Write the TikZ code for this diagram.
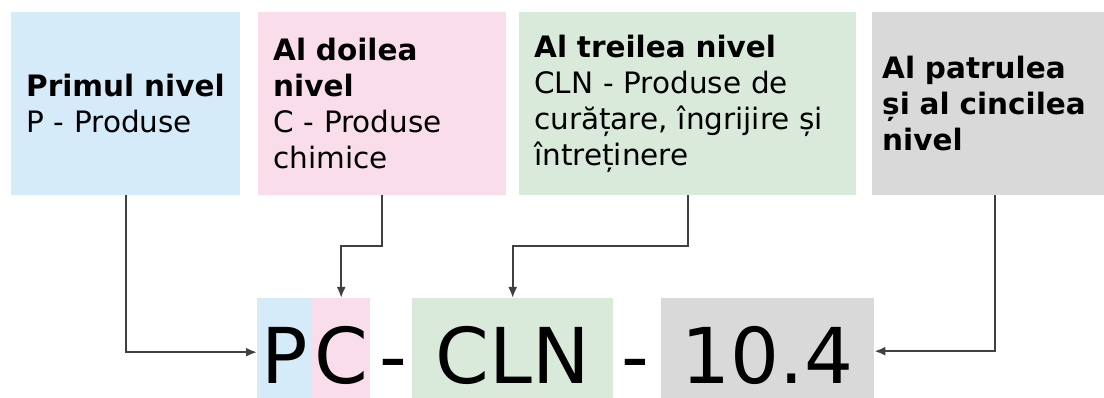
\documentclass[tikz,border=0pt]{standalone}
\usepackage{fontspec}
\setmainfont{DejaVu Sans}
\usetikzlibrary{arrows.meta}
\definecolor{lvlblue}{RGB}{214,235,250}
\definecolor{lvlpink}{RGB}{250,221,234}
\definecolor{lvlgreen}{RGB}{217,234,219}
\definecolor{lvlgray}{RGB}{217,217,217}
\definecolor{linkgray}{RGB}{64,64,64}
\tikzset{
  lvl/.style={fill=#1,anchor=north west,inner ysep=0pt,inner xsep=15pt,
    minimum height=183pt,align=left,font=\fontsize{29.5}{36}\selectfont},
  code/.style={fill=#1,anchor=north west,inner sep=0pt,minimum height=100pt,
    text height=70pt,text depth=0pt,font=\fontsize{77}{77}\selectfont},
  link/.style={->,draw=linkgray,line width=2pt}
}
\begin{document}
\begin{tikzpicture}[>={Latex[length=11pt,width=9pt]},x=1pt,y=-1pt]
\useasboundingbox (0,0) rectangle (1104,398);
% levels
\node[lvl=lvlblue,text width=199pt] (lvlP) at (11,12)
  {\textbf{Primul nivel}\\P - Produse};
\node[lvl=lvlpink,text width=218pt] (lvlC) at (258,12)
  {\textbf{Al doilea}\\\textbf{nivel}\\C - Produse\\chimice};
\node[lvl=lvlgreen,text width=307pt] (lvlCLN) at (519,12)
  {\textbf{Al treilea nivel}\\CLN - Produse de\\curățare, îngrijire și\\întreținere};
\node[lvl=lvlgray,text width=212pt,inner xsep=10pt] (lvlNr) at (872,12)
  {\textbf{Al patrulea}\\\textbf{și al cincilea}\\\textbf{nivel}};
% code
\node[code=lvlblue,minimum width=55pt] (codeP) at (257,298) {P};
\node[code=lvlpink,minimum width=58pt] (codeC) at (312,298) {C};
\node[font=\fontsize{77}{77}\selectfont,inner sep=0pt,anchor=base] (dashA) at (393.5,383) {-};
\node[code=lvlgreen,minimum width=201pt] (codeCLN) at (412,298) {CLN};
\node[font=\fontsize{77}{77}\selectfont,inner sep=0pt,anchor=base] (dashB) at (635.5,383) {-};
\node[code=lvlgray,minimum width=213pt] (codeNr) at (661,298) {10.4};
% links
\draw[link] (lvlP.south) |- ([yshift=-4pt]codeP.west);
\draw[link] (lvlC.south) -- ++(0,51) -| (codeC.north);
\draw[link] (lvlCLN.south) -- ++(0,51) -| (codeCLN.north);
\draw[link] ([xshift=7pt]lvlNr.south) |- ([yshift=-3pt]codeNr.east);
\end{tikzpicture}
\end{document}
